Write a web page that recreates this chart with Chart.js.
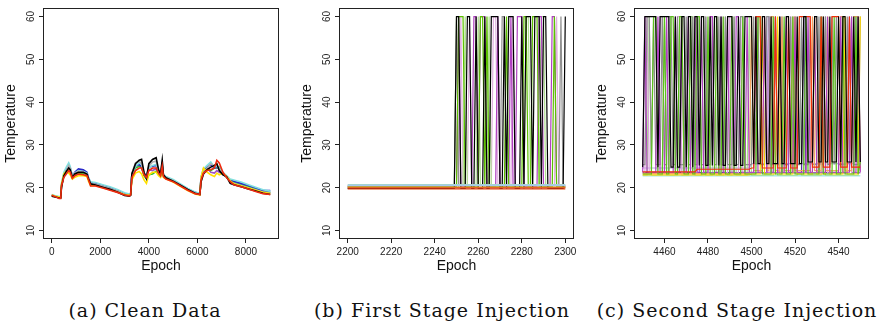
<!DOCTYPE html>
<html>
<head>
<meta charset="utf-8">
<script src="https://cdn.jsdelivr.net/npm/chart.js@4/dist/chart.umd.min.js"></script>
<style>
  body { margin: 0; background: #fff; width: 886px; height: 324px; overflow: hidden; position: relative; }
  canvas { position: absolute; top: 0; }
  .cap { position: absolute; top: 299px; line-height: 22px; font-family: "DejaVu Serif"; font-size: 19px; letter-spacing: 1px; color: #111; white-space: nowrap; transform: translateX(-50%); }
</style>
</head>
<body>
<canvas id="chartA" width="290" height="280" style="left:0px"></canvas>
<canvas id="chartB" width="289" height="280" style="left:296px"></canvas>
<canvas id="chartC" width="289" height="280" style="left:591px"></canvas>
<div class="cap" style="left:145px">(a) Clean Data</div>
<div class="cap" style="left:442px">(b) First Stage Injection</div>
<div class="cap" style="left:737px">(c) Second Stage Injection</div>
<script>
const yTicks = [10, 20, 30, 40, 50, 60];
const xTicksA = [0, 2000, 4000, 6000, 8000];
const xTicksB = [2200, 2220, 2240, 2260, 2280, 2300];
const xTicksC = [4460, 4480, 4500, 4520, 4540];

// (a) clean data
const epochA = [0, 150, 300, 370, 400, 500, 600, 700, 760, 850,
  950, 1100, 1300, 1450, 1520, 1600, 1800, 2100, 2400, 2700,
  3000, 3200, 3250, 3300, 3450, 3600, 3700, 3800, 3900, 4000,
  4150, 4300, 4400, 4480, 4550, 4600, 4700, 5000, 5300, 5600,
  5900, 6100, 6150, 6250, 6400, 6550, 6700, 6800, 6900, 7050,
  7200, 7350, 7500, 7800, 8100, 8400, 8700, 9000];
const aRed = [18.2, 17.9, 17.5, 17.5, 20.4, 22.4, 23.2, 24.0, 23.6, 22.2,
  22.8, 23.2, 23.0, 22.8, 21.8, 20.4, 20.4, 19.9, 19.4, 18.9,
  18.3, 18.1, 18.3, 22.4, 24.0, 24.6, 24.6, 23.0, 22.4, 24.0,
  24.6, 24.6, 23.4, 22.8, 25.0, 22.6, 22.0, 21.4, 20.4, 19.4,
  18.6, 18.4, 21.8, 23.4, 24.0, 24.2, 24.6, 26.4, 25.8, 23.6,
  22.4, 21.4, 20.7, 20.2, 19.7, 19.1, 18.6, 18.4];
const aBlack = [18.0, 17.8, 17.6, 17.6, 20.0, 22.8, 23.8, 24.6, 24.2, 22.4,
  23.2, 23.6, 23.6, 23.2, 22.0, 20.9, 20.6, 20.1, 19.6, 19.0,
  18.2, 18.0, 18.2, 23.2, 25.6, 26.4, 26.6, 23.6, 22.2, 25.6,
  26.6, 27.0, 24.2, 23.2, 26.4, 23.0, 22.3, 21.5, 20.6, 19.6,
  18.7, 18.4, 21.4, 23.2, 24.2, 24.8, 25.2, 25.6, 24.0, 23.0,
  22.6, 21.0, 20.7, 20.2, 19.7, 19.2, 18.7, 18.4];
const aYellow = [18.3, 18.0, 17.8, 17.8, 20.8, 23.2, 23.8, 23.4, 23.0, 22.0,
  22.4, 22.8, 22.8, 22.6, 21.4, 20.5, 20.5, 20.0, 19.5, 19.0,
  18.4, 18.2, 18.4, 21.8, 23.4, 23.8, 23.2, 21.8, 21.0, 23.0,
  23.6, 23.6, 22.8, 22.4, 24.0, 22.4, 22.1, 21.3, 20.3, 19.3,
  18.5, 18.3, 22.4, 24.6, 23.6, 23.0, 22.6, 23.4, 23.0, 23.4,
  22.6, 21.6, 20.9, 20.4, 19.9, 19.4, 18.9, 18.6];
const aGray = [18.1, 17.9, 17.7, 17.7, 20.3, 22.9, 24.0, 25.2, 24.6, 22.6,
  23.4, 23.8, 23.6, 23.2, 22.0, 21.0, 20.8, 20.3, 19.8, 19.2,
  18.4, 18.1, 18.3, 23.4, 25.8, 26.2, 25.6, 23.4, 22.4, 25.0,
  26.0, 26.2, 23.8, 23.2, 26.0, 23.0, 22.4, 21.6, 20.6, 19.6,
  18.7, 18.4, 21.6, 23.4, 24.6, 25.6, 25.0, 25.4, 24.2, 23.2,
  22.6, 21.4, 21.0, 20.5, 20.0, 19.5, 19.0, 18.7];
const aCyan = [18.4, 18.1, 17.9, 17.9, 21.0, 23.6, 24.8, 25.8, 25.0, 22.6,
  23.4, 24.0, 23.8, 23.4, 22.2, 21.4, 21.2, 20.7, 20.2, 19.6,
  18.8, 18.5, 18.6, 23.0, 25.0, 25.8, 25.4, 23.2, 22.4, 24.6,
  25.2, 25.4, 23.8, 23.0, 25.4, 23.0, 22.6, 21.9, 20.9, 19.8,
  19.0, 18.7, 22.6, 24.4, 25.2, 26.0, 24.8, 25.0, 24.6, 23.6,
  22.8, 22.0, 21.8, 21.3, 20.7, 20.1, 19.5, 19.2];
const aBlue = [18.3, 18.0, 17.8, 17.8, 20.6, 23.0, 24.2, 25.0, 24.6, 22.6,
  23.6, 24.4, 24.2, 23.6, 22.2, 21.2, 21.0, 20.5, 20.0, 19.4,
  18.6, 18.3, 18.5, 23.2, 25.2, 25.4, 25.0, 23.4, 22.6, 24.8,
  25.0, 25.2, 23.6, 23.0, 25.2, 22.8, 22.4, 21.7, 20.7, 19.7,
  18.9, 18.6, 22.2, 24.0, 24.8, 25.4, 24.6, 24.8, 24.4, 23.2,
  22.6, 21.8, 21.5, 21.0, 20.5, 19.9, 19.3, 19.3];
const aGreen = [18.1, 17.9, 17.7, 17.7, 20.4, 22.8, 23.6, 24.4, 24.0, 22.4,
  23.0, 23.4, 23.4, 23.0, 21.8, 20.8, 20.7, 20.2, 19.7, 19.1,
  18.4, 18.2, 18.4, 22.8, 24.6, 25.0, 24.8, 22.8, 22.0, 23.0,
  23.2, 23.8, 23.2, 22.8, 24.4, 22.8, 22.2, 21.6, 20.6, 19.6,
  18.8, 18.5, 22.0, 23.8, 24.4, 24.0, 24.6, 24.6, 24.8, 23.2,
  22.4, 21.6, 21.2, 20.7, 20.2, 19.6, 19.0, 18.9];
const aPurple = [18.2, 17.9, 17.7, 17.7, 20.5, 22.9, 23.8, 24.6, 24.2, 22.5,
  23.4, 24.0, 24.0, 23.4, 22.0, 21.0, 20.9, 20.4, 19.9, 19.3,
  18.5, 18.3, 18.5, 23.0, 25.0, 25.2, 24.6, 23.0, 22.2, 24.2,
  24.0, 24.4, 23.0, 22.6, 24.8, 22.8, 22.3, 21.6, 20.6, 19.6,
  18.8, 18.5, 22.4, 24.4, 24.6, 23.6, 23.4, 24.0, 23.6, 23.2,
  22.5, 21.7, 21.2, 20.7, 20.2, 19.6, 19.0, 18.8];

// (b) first stage injection
const epochB = [2200, 2248,
  2249, 2250, 2251, 2252, 2253, 2254, 2255, 2256, 2257, 2258,
  2259, 2260, 2261, 2262, 2263, 2264, 2265, 2266, 2267, 2268,
  2269, 2270, 2271, 2272, 2273, 2274, 2275, 2276, 2277, 2278,
  2279, 2280, 2281, 2282, 2283, 2284, 2285, 2286, 2287, 2288,
  2289, 2290, 2291, 2292, 2293, 2294, 2295, 2296, 2297, 2298,
  2299, 2300];
const bBlack = [19.8, 19.8,
  19.8, 60, 60, 19.8, 19.8, 19.8, 60, 60, 19.8, 19.8,
  60, 19.8, 19.8, 19.8, 60, 19.8, 19.8, 60, 60, 60,
  60, 19.8, 19.8, 60, 19.8, 60, 60, 60, 19.8, 19.8,
  19.8, 60, 19.8, 60, 60, 60, 19.8, 60, 60, 60,
  19.8, 60, 60, 19.8, 19.8, 19.8, 19.8, 19.8, 19.8, 19.8,
  19.8, 60];
const bGreen = [20.2, 20.2,
  20.2, 20.2, 60, 60, 60, 20.2, 20.2, 20.2, 20.2, 20.2,
  20.2, 20.2, 60, 60, 20.2, 60, 20.2, 20.2, 20.2, 20.2,
  20.2, 20.2, 20.2, 20.2, 60, 20.2, 20.2, 20.2, 20.2, 20.2,
  20.2, 20.2, 60, 60, 20.2, 20.2, 60, 60, 60, 20.2,
  20.2, 20.2, 20.2, 20.2, 20.2, 20.2, 60, 20.2, 20.2, 20.2,
  20.2, 20.2];
const bPurple = [20.3, 20.3,
  20.3, 20.3, 60, 20.3, 20.3, 20.3, 20.3, 20.3, 20.3, 60,
  60, 20.3, 60, 60, 60, 20.3, 20.3, 20.3, 20.3, 20.3,
  60, 20.3, 20.3, 20.3, 20.3, 20.3, 60, 20.3, 20.3, 60,
  60, 60, 20.3, 20.3, 20.3, 20.3, 20.3, 20.3, 20.3, 60,
  60, 20.3, 20.3, 20.3, 20.3, 60, 60, 20.3, 20.3, 20.3,
  20.3, 20.3];
const bLightGreen = [20.4, 20.4,
  20.4, 60, 20.4, 20.4, 20.4, 60, 20.4, 20.4, 20.4, 20.4,
  20.4, 60, 20.4, 20.4, 20.4, 20.4, 60, 20.4, 20.4, 20.4,
  20.4, 20.4, 20.4, 20.4, 20.4, 20.4, 20.4, 20.4, 20.4, 20.4,
  20.4, 20.4, 20.4, 60, 60, 20.4, 20.4, 20.4, 20.4, 20.4,
  60, 60, 20.4, 20.4, 20.4, 20.4, 20.4, 20.4, 20.4, 20.4,
  20.4, 20.4];
const bPink = [20.4, 20.4,
  20.4, 20.4, 20.4, 60, 20.4, 20.4, 20.4, 60, 20.4, 20.4,
  20.4, 20.4, 20.4, 20.4, 20.4, 20.4, 20.4, 20.4, 60, 60,
  20.4, 20.4, 20.4, 20.4, 20.4, 20.4, 20.4, 60, 20.4, 20.4,
  20.4, 20.4, 20.4, 20.4, 20.4, 20.4, 20.4, 20.4, 20.4, 20.4,
  20.4, 20.4, 20.4, 20.4, 20.4, 20.4, 20.4, 60, 20.4, 20.4,
  20.4, 20.4];
const bGray = [20.0, 20.0,
  20.0, 60, 20.0, 20.0, 20.0, 20.0, 20.0, 20.0, 20.0, 20.0,
  20.0, 20.0, 20.0, 20.0, 20.0, 20.0, 20.0, 20.0, 20.0, 20.0,
  20.0, 20.0, 60, 60, 20.0, 20.0, 20.0, 20.0, 20.0, 20.0,
  20.0, 20.0, 20.0, 20.0, 20.0, 20.0, 20.0, 20.0, 20.0, 20.0,
  20.0, 20.0, 20.0, 20.0, 20.0, 20.0, 20.0, 20.0, 20.0, 60,
  20.0, 20.0];
const flatEpochB = [2200, 2300];
const bTeal = [20.7, 20.7];
const bLightBlue = [20.5, 20.5];
const bOrange = [20.1, 20.1];
const bRed = [19.9, 19.9];
const bSalmon = [19.6, 19.6];

// (c) second stage injection
const epochC = [4450, 4451, 4452, 4453, 4454, 4455, 4456, 4457, 4458, 4459, 4460, 4461, 4462, 4463, 4464, 4465, 4466, 4467, 4468, 4469, 4470, 4471, 4472, 4473, 4474,
  4475, 4476, 4477, 4478, 4479, 4480, 4481, 4482, 4483, 4484, 4485, 4486, 4487, 4488, 4489, 4490, 4491, 4492, 4493, 4494, 4495, 4496, 4497, 4498, 4499,
  4500, 4501, 4502, 4503, 4504, 4505, 4506, 4507, 4508, 4509, 4510, 4511, 4512, 4513, 4514, 4515, 4516, 4517, 4518, 4519, 4520, 4521, 4522, 4523, 4524,
  4525, 4526, 4527, 4528, 4529, 4530, 4531, 4532, 4533, 4534, 4535, 4536, 4537, 4538, 4539, 4540, 4541, 4542, 4543, 4544, 4545, 4546, 4547, 4548, 4549, 4550];
const cBlack = [24.8, 60, 60, 60, 60, 60, 60, 24.8, 60, 60, 60, 60, 60, 24.8, 24.8, 60, 24.8, 24.8, 60, 60, 24.8, 60, 60, 24.8, 60,
  60, 25.2, 60, 60, 25.2, 25.2, 60, 25.2, 60, 60, 25.2, 60, 25.2, 25.2, 60, 60, 60, 25.2, 25.2, 60, 25.2, 25.2, 60, 60, 60,
  60, 25.6, 60, 25.6, 25.6, 60, 60, 25.6, 25.6, 60, 25.6, 25.6, 25.6, 60, 25.6, 25.6, 60, 60, 25.6, 25.6, 25.6, 60, 25.6, 25.6, 60,
  60, 26, 26, 26, 60, 60, 26, 26, 60, 26, 26, 60, 26, 26, 26, 60, 26, 60, 60, 26, 26, 26, 60, 26, 60, 26];
const cGray = [25.4, 25.4, 60, 60, 25.4, 60, 25.4, 25.4, 25.4, 60, 25.4, 25.4, 60, 60, 25.4, 25.4, 60, 25.4, 25.4, 25.4, 60, 25.4, 25.4, 60, 25.4,
  25.4, 60, 25.4, 25.4, 60, 25.4, 25.4, 60, 25.4, 25.4, 60, 25.4, 25.4, 60, 25.4, 25.4, 25.4, 60, 25.4, 25.4, 60, 60, 25.4, 25.4, 25.4,
  25.4, 60, 25.4, 60, 25.4, 25.4, 25.4, 60, 60, 25.4, 25.4, 60, 25.4, 25.4, 60, 25.4, 25.4, 25.4, 60, 25.4, 60, 25.4, 25.4, 60, 25.4,
  25.4, 25.4, 60, 25.4, 25.4, 25.4, 60, 25.4, 25.4, 60, 25.4, 25.4, 60, 25.4, 60, 25.4, 25.4, 25.4, 25.4, 60, 25.4, 60, 25.4, 25.4, 25.4, 60];
const cGreen = [23.2, 23.2, 23.2, 23.2, 23.2, 60, 60, 23.2, 23.2, 23.2, 60, 23.2, 23.2, 60, 60, 23.2, 23.2, 60, 60, 23.2, 23.2, 23.2, 60, 23.2, 23.2,
  60, 60, 23.2, 23.2, 23.2, 60, 23.2, 23.2, 23.2, 60, 23.2, 23.2, 60, 23.2, 23.2, 23.2, 60, 23.2, 23.2, 23.2, 23.2, 60, 23.2, 23.2, 23.2,
  23.2, 23.2, 23.2, 60, 60, 23.2, 23.2, 23.2, 23.2, 23.2, 60, 23.2, 23.2, 23.2, 23.2, 60, 23.2, 23.2, 23.2, 60, 23.2, 23.2, 23.2, 23.2, 23.2,
  60, 23.2, 23.2, 23.2, 23.2, 23.2, 23.2, 60, 23.2, 23.2, 23.2, 23.2, 23.2, 60, 23.2, 23.2, 23.2, 60, 23.2, 23.2, 23.2, 23.2, 23.2, 60, 23.2, 26];
const cPurple = [23.6, 60, 23.6, 23.6, 23.6, 23.6, 23.6, 60, 23.6, 23.6, 23.6, 60, 23.6, 23.6, 23.6, 60, 23.6, 23.6, 60, 23.6, 23.6, 60, 23.6, 23.6, 60,
  23.6, 23.6, 60, 23.6, 23.6, 23.6, 60, 60, 23.6, 23.6, 23.6, 60, 23.6, 23.6, 60, 23.6, 23.6, 23.6, 60, 60, 23.6, 23.6, 23.6, 60, 23.6,
  23.6, 23.6, 60, 23.6, 23.6, 23.6, 60, 23.6, 23.6, 23.6, 23.6, 60, 23.6, 23.6, 23.6, 23.6, 60, 23.6, 23.6, 23.6, 60, 23.6, 23.6, 23.6, 23.6,
  23.6, 60, 23.6, 23.6, 60, 23.6, 23.6, 23.6, 23.6, 23.6, 60, 23.6, 23.6, 23.6, 23.6, 23.6, 60, 23.6, 23.6, 23.6, 23.6, 60, 23.6, 23.6, 60, 23.6];
const cPink = [23.4, 23.4, 60, 23.4, 23.4, 23.4, 23.4, 23.4, 60, 60, 23.4, 23.4, 23.4, 23.4, 23.4, 23.4, 60, 60, 23.4, 23.4, 23.4, 60, 23.4, 23.4, 23.4,
  23.4, 60, 23.4, 23.4, 60, 23.4, 23.4, 23.4, 23.4, 60, 23.4, 23.4, 60, 23.4, 23.4, 60, 23.4, 23.4, 23.4, 23.4, 60, 23.4, 23.4, 23.4, 23.4,
  23.4, 23.4, 23.4, 23.4, 23.4, 23.4, 23.4, 23.4, 60, 23.4, 23.4, 23.4, 23.4, 23.4, 23.4, 23.4, 23.4, 23.4, 60, 23.4, 23.4, 23.4, 23.4, 23.4, 23.4,
  23.4, 23.4, 23.4, 23.4, 23.4, 23.4, 23.4, 23.4, 23.4, 60, 23.4, 23.4, 23.4, 23.4, 23.4, 23.4, 23.4, 23.4, 23.4, 23.4, 60, 23.4, 23.4, 23.4, 23.4, 23.4];
const cLightGreen = [22.9, 22.9, 22.9, 60, 22.9, 22.9, 22.9, 22.9, 22.9, 22.9, 60, 22.9, 22.9, 22.9, 22.9, 22.9, 22.9, 60, 22.9, 22.9, 22.9, 22.9, 60, 60, 22.9,
  22.9, 22.9, 22.9, 60, 22.9, 22.9, 22.9, 22.9, 60, 22.9, 22.9, 22.9, 22.9, 60, 22.9, 22.9, 22.9, 60, 22.9, 22.9, 22.9, 22.9, 22.9, 22.9, 60,
  22.9, 22.9, 22.9, 22.9, 22.9, 22.9, 22.9, 22.9, 22.9, 22.9, 22.9, 60, 22.9, 22.9, 22.9, 22.9, 22.9, 22.9, 22.9, 22.9, 22.9, 22.9, 60, 22.9, 22.9,
  22.9, 22.9, 22.9, 22.9, 22.9, 22.9, 22.9, 22.9, 60, 22.9, 22.9, 22.9, 22.9, 22.9, 22.9, 22.9, 22.9, 22.9, 22.9, 22.9, 22.9, 22.9, 22.9, 22.9, 22.9, 26];
const cRed = [23.7, 23.7, 23.7, 23.7, 23.7, 23.7, 23.7, 23.7, 23.7, 23.7, 23.7, 23.7, 23.7, 23.7, 23.7, 23.7, 23.7, 23.7, 23.7, 23.7, 23.7, 23.7, 23.7, 23.7, 23.7,
  24.3, 24.3, 24.3, 24.3, 24.3, 24.3, 24.3, 24.3, 24.3, 24.3, 24.3, 24.3, 24.3, 24.3, 24.3, 24.3, 24.3, 24.3, 24.3, 24.3, 24.3, 24.3, 24.3, 24.3, 24.3,
  24.6, 24.6, 60, 60, 60, 24.6, 24.6, 24.6, 24.6, 24.6, 24.6, 60, 24.6, 24.6, 24.6, 24.6, 24.6, 60, 24.6, 24.6, 24.6, 24.6, 60, 60, 60,
  60, 60, 60, 24.8, 24.8, 24.8, 24.8, 60, 24.8, 24.8, 24.8, 24.8, 60, 60, 60, 60, 24.8, 24.8, 24.8, 24.8, 60, 24.8, 24.8, 24.8, 24.8, 24.8];
const cOrange = [23.3, 23.3, 23.3, 23.3, 23.3, 23.3, 23.3, 23.3, 23.3, 23.3, 23.3, 23.3, 23.3, 23.3, 23.3, 23.3, 23.3, 23.3, 23.3, 23.3, 23.3, 23.3, 23.3, 23.3, 23.3,
  23.3, 23.3, 23.3, 23.3, 23.3, 23.3, 23.3, 23.3, 23.3, 23.3, 23.3, 23.3, 23.3, 23.3, 23.3, 23.3, 23.3, 23.3, 23.3, 23.3, 23.3, 23.3, 23.3, 23.3, 23.3,
  60, 24, 24, 24, 24, 24, 60, 24, 24, 60, 60, 24, 24, 24, 60, 24, 24, 24, 24, 60, 24, 24, 24, 24, 24,
  24, 24, 24, 60, 24, 24, 24, 24, 60, 24, 24, 24, 24, 24, 24, 24, 60, 60, 24, 24, 24, 24, 60, 60, 60, 24];
const cYellow = [23.0, 23.0, 23.0, 23.0, 23.0, 23.0, 23.0, 23.0, 23.0, 23.0, 23.0, 23.0, 23.0, 23.0, 23.0, 23.0, 23.0, 23.0, 23.0, 23.0, 23.0, 23.0, 23.0, 23.0, 23.0,
  23.0, 23.0, 23.0, 23.0, 23.0, 23.0, 23.0, 23.0, 23.0, 23.0, 23.0, 23.0, 23.0, 23.0, 23.0, 23.0, 23.0, 23.0, 23.0, 23.0, 23.0, 23.0, 23.0, 23.0, 23.0,
  23.2, 23.2, 23.2, 23.2, 23.2, 60, 23.2, 23.2, 23.2, 23.2, 23.2, 23.2, 60, 23.2, 23.2, 23.2, 23.2, 23.2, 23.2, 23.2, 60, 23.2, 23.2, 23.2, 23.2,
  23.2, 23.2, 23.2, 23.2, 60, 23.2, 23.2, 23.2, 23.2, 23.2, 60, 23.2, 23.2, 23.2, 23.2, 23.2, 23.2, 23.2, 60, 23.2, 23.2, 23.2, 23.2, 23.2, 23.2, 60];
const cIndigo = [23.5, 23.5, 23.5, 23.5, 23.5, 23.5, 23.5, 23.5, 23.5, 23.5, 23.5, 23.5, 23.5, 23.5, 23.5, 23.5, 23.5, 23.5, 23.5, 23.5, 23.5, 23.5, 23.5, 23.5, 23.5,
  23.5, 23.5, 23.5, 23.5, 23.5, 23.5, 23.5, 23.5, 23.5, 23.5, 23.5, 23.5, 23.5, 23.5, 23.5, 23.5, 23.5, 23.5, 23.5, 23.5, 23.5, 23.5, 23.5, 23.5, 23.5,
  23.5, 23.5, 23.5, 23.5, 23.5, 23.5, 23.5, 23.5, 60, 23.5, 23.5, 23.5, 23.5, 60, 23.5, 23.5, 23.5, 23.5, 23.5, 23.5, 23.5, 23.5, 23.5, 23.5, 60,
  23.5, 23.5, 23.5, 23.5, 23.5, 23.5, 23.5, 60, 23.5, 23.5, 23.5, 23.5, 23.5, 23.5, 23.5, 23.5, 23.5, 23.5, 23.5, 23.5, 60, 23.5, 23.5, 23.5, 23.5, 23.5];
const cLavender = [24.6, 24.6, 24.6, 24.6, 24.6, 24.6, 24.6, 24.6, 24.6, 24.6, 24.6, 24.6, 24.6, 24.6, 24.6, 24.6, 24.6, 24.6, 24.6, 24.6, 24.6, 24.6, 24.6, 24.6, 24.6,
  24.6, 24.6, 24.6, 24.6, 24.6, 24.6, 24.6, 24.6, 24.6, 24.6, 24.6, 24.6, 24.6, 24.6, 24.6, 24.6, 24.6, 24.6, 24.6, 24.6, 24.6, 24.6, 24.6, 24.6, 24.6,
  25.6, 25.6, 25.6, 25.6, 25.6, 25.6, 25.6, 60, 25.6, 25.6, 25.6, 25.6, 25.6, 25.6, 25.6, 25.6, 25.6, 25.6, 25.6, 60, 25.6, 25.6, 25.6, 25.6, 25.6,
  25.6, 25.6, 25.6, 25.6, 25.6, 25.6, 25.6, 25.6, 25.6, 60, 25.6, 25.6, 25.6, 25.6, 25.6, 25.6, 25.6, 25.6, 25.6, 25.6, 25.6, 25.6, 25.6, 60, 25.6, 25.6];
const flatEpochC = [4450, 4550];
const cCyan = [22.8, 22.8];

function line(xs, ys, color, width) {
  return {
    data: xs.map((x, i) => ({ x, y: ys[i] })),
    borderColor: color,
    borderWidth: width,
    pointRadius: 0,
    fill: false,
    tension: 0,
  };
}

const boxPlugin = {
  id: "box",
  afterDraw(chart) {
    const { ctx, chartArea: a } = chart;
    ctx.save();
    ctx.strokeStyle = "#222";
    ctx.lineWidth = 1;
    ctx.strokeRect(a.left + 0.5, a.top + 0.5, a.right - a.left - 1, a.bottom - a.top - 1);
    ctx.restore();
  },
};

function drawPanel(id, datasets, xMin, xMax, xTicks) {
  const tickFont = { family: "Liberation Sans", size: 10 };
  const titleFont = { family: "Liberation Sans", size: 14 };
  return new Chart(document.getElementById(id), {
    type: "line",
    data: { datasets },
    options: {
      responsive: false,
      animation: false,
      events: [],
      layout: { padding: { top: 4, right: 11, bottom: 0, left: 0 } },
      plugins: { legend: { display: false }, tooltip: { enabled: false } },
      scales: {
        x: {
          type: "linear", min: xMin, max: xMax,
          afterBuildTicks: (scale) => { scale.ticks = xTicks.map((v) => ({ value: v })); },
          afterFit: (scale) => { scale.height = 41; },
          ticks: { font: tickFont, color: "#222", padding: 3, maxRotation: 0, autoSkip: false, callback: (v) => String(v) },
          grid: { drawOnChartArea: false, tickLength: 4, color: "#222" },
          border: { display: false },
          title: { display: true, text: "Epoch", font: titleFont, color: "#111", padding: { top: 0, bottom: 5 } },
        },
        y: {
          type: "linear", min: 8, max: 62,
          afterBuildTicks: (scale) => { scale.ticks = yTicks.map((v) => ({ value: v })); },
          afterFit: (scale) => { scale.width = 43; },
          ticks: { font: tickFont, color: "#222", padding: 2, minRotation: 90, maxRotation: 90, crossAlign: "center", autoSkip: false, callback: (v) => String(v) },
          grid: { drawOnChartArea: false, tickLength: 4, color: "#222" },
          border: { display: false },
          title: { display: true, text: "Temperature", font: titleFont, color: "#111", padding: { top: 3, bottom: 0 } },
        },
      },
    },
    plugins: [boxPlugin],
  });
}

drawPanel("chartA", [
  line(epochA, aRed, "#ee2a10", 1.6),
  line(epochA, aBlack, "#000000", 1.6),
  line(epochA, aYellow, "#ffe000", 1.6),
  line(epochA, aGray, "#b0b0b0", 1.6),
  line(epochA, aCyan, "#80e0e0", 1.6),
  line(epochA, aBlue, "#2828c8", 1.6),
  line(epochA, aGreen, "#30c030", 1.6),
  line(epochA, aPurple, "#a050c8", 1.6),
], -360, 9360, xTicksA);

drawPanel("chartB", [
  line(flatEpochB, bRed, "#d83010", 1.4),
  line(flatEpochB, bOrange, "#f0a030", 1.4),
  line(flatEpochB, bSalmon, "#f0a080", 1.4),
  line(flatEpochB, bLightBlue, "#a8c8f0", 1.4),
  line(flatEpochB, bTeal, "#a0d8c8", 1.4),
  line(epochB, bBlack, "#000000", 1.2),
  line(epochB, bGreen, "#5cc000", 1.2),
  line(epochB, bPurple, "#b040c0", 1.2),
  line(epochB, bGray, "#909090", 1.2),
  line(epochB, bLightGreen, "#b0e090", 1.2),
  line(epochB, bPink, "#e0b0e0", 1.2),
], 2196, 2304, xTicksB);

drawPanel("chartC", [
  line(epochC, cBlack, "#000000", 1.2),
  line(epochC, cRed, "#f0300a", 1.2),
  line(epochC, cGreen, "#5cc21a", 1.2),
  line(epochC, cPurple, "#b040c0", 1.2),
  line(epochC, cOrange, "#f4a460", 1.2),
  line(epochC, cYellow, "#ffd700", 1.2),
  line(epochC, cGray, "#8c8c8c", 1.2),
  line(epochC, cPink, "#dca0dc", 1.2),
  line(epochC, cIndigo, "#5a2ca0", 1.2),
  line(epochC, cLavender, "#b0a8e0", 1.2),
  line(epochC, cLightGreen, "#a8e08c", 1.2),
  line(flatEpochC, cCyan, "#a8e6e6", 1.4),
], 4446, 4554, xTicksC);
</script>
</body>
</html>
